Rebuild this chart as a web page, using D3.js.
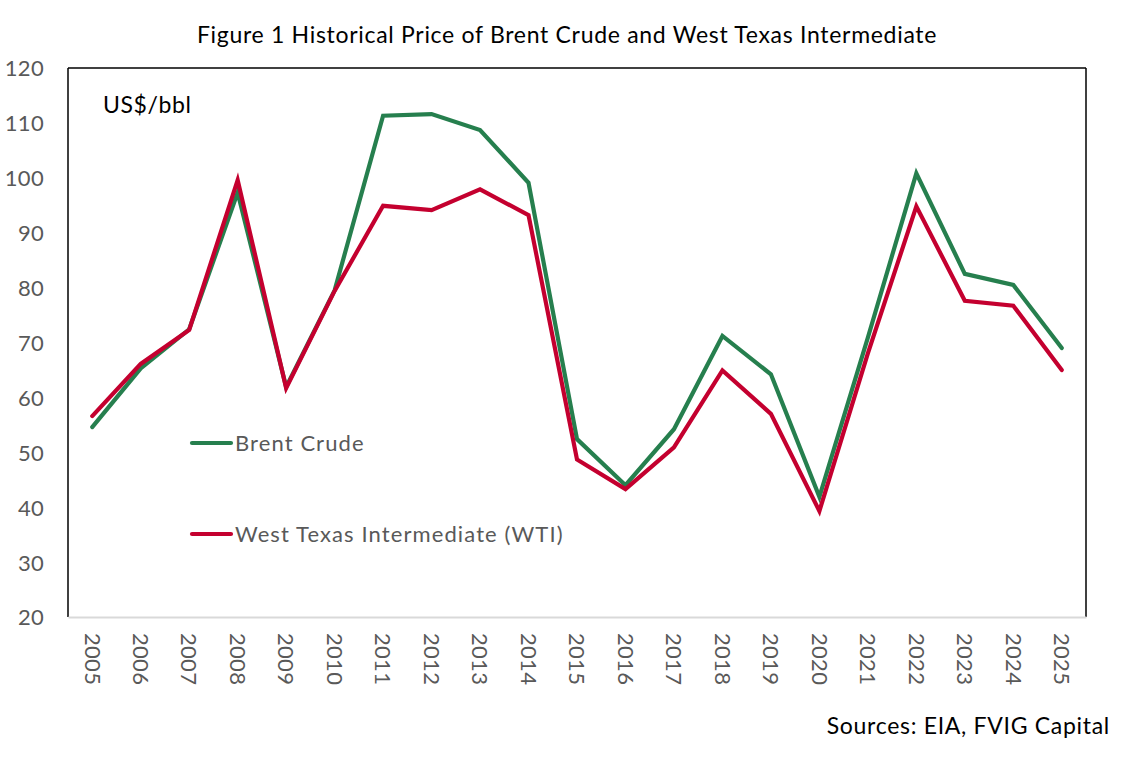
<!DOCTYPE html>
<html><head><meta charset="utf-8">
<script src="https://cdn.jsdelivr.net/npm/d3@7"></script>
<style>body{margin:0;background:#fff;} svg{display:block;}</style>
</head><body>
<svg id="chart" width="1128" height="758"></svg>
<script>
const years = ["2005","2006","2007","2008","2009","2010","2011","2012","2013","2014","2015","2016","2017","2018","2019","2020","2021","2022","2023","2024","2025"];
const brent = [54.6,65.3,72.4,97.3,61.9,79.5,111.3,111.6,108.7,99.1,52.4,44.0,54.2,71.2,64.2,41.9,70.9,100.8,82.5,80.5,69.0];
const wti   = [56.6,66.1,72.3,99.6,61.7,79.4,94.9,94.1,97.9,93.2,48.7,43.3,50.9,64.9,57.0,39.3,68.0,94.8,77.6,76.7,65.0];
const yTicks = [20,30,40,50,60,70,80,90,100,110,120];
const seriesNames = ["Brent Crude","West Texas Intermediate (WTI)"];
const colors = ["#267F4E","#C4002F"];

const svg = d3.select("#chart");
const font = "Lato, 'Noto Sans', sans-serif";
const L = 68, R = 1086, T = 68, B = 617;

const x = d3.scaleBand().domain(years).range([L, R]);
const y = d3.scaleLinear().domain([20,120]).range([B, T]);

// title
svg.append("text").attr("x", 567).attr("y", 43).attr("text-anchor","middle")
  .attr("font-family", font).attr("font-size", 23).attr("letter-spacing", 0.7).attr("fill","#000")
  .text("Figure 1 Historical Price of Brent Crude and West Texas Intermediate");

// plot border
svg.append("line").attr("x1",L).attr("x2",R).attr("y1",T).attr("y2",T).attr("stroke","#000").attr("stroke-width",1.5);
svg.append("line").attr("x1",L).attr("x2",L).attr("y1",T).attr("y2",B).attr("stroke","#000").attr("stroke-width",1.5);
svg.append("line").attr("x1",R).attr("x2",R).attr("y1",T).attr("y2",B).attr("stroke","#000").attr("stroke-width",1.5);

// y axis labels
const yAxis = d3.axisLeft(y).tickValues(yTicks).tickSize(0).tickPadding(0);
const gy = svg.append("g").attr("transform", `translate(44,0)`).call(yAxis);
gy.select(".domain").remove();
gy.selectAll("text").attr("font-family", font).attr("font-size", 22).attr("letter-spacing", 0.3).attr("fill","#595959").attr("dy","0.36em");

// x axis
const xAxis = d3.axisBottom(x).tickSize(0).tickPadding(0);
const gx = svg.append("g").attr("transform", `translate(0,${B})`).call(xAxis);
gx.select(".domain").attr("stroke","#D9D9D9").attr("stroke-width",2);
gx.selectAll("text").attr("font-family", font).attr("font-size", 22).attr("letter-spacing", 0.3).attr("fill","#595959")
  .attr("text-anchor","start").attr("dy","0.35em")
  .attr("transform","translate(0,16) rotate(90)").attr("y",0).attr("x",0);

// lines
const line = d3.line().x((d,i)=>x(years[i]) + x.bandwidth()/2).y(d=>y(d));
[brent, wti].forEach((s,k)=>{
  svg.append("path").datum(s).attr("d", line).attr("fill","none")
    .attr("stroke", colors[k]).attr("stroke-width",4.2).attr("stroke-linejoin","miter").attr("stroke-linecap","round");
});

// unit label
svg.append("text").attr("x",103).attr("y",113).attr("font-family", font).attr("font-size",23).attr("letter-spacing",0.6).attr("fill","#000").text("US$/bbl");

// legend
const legY = [443, 534];
seriesNames.forEach((n,k)=>{
  svg.append("line").attr("x1",192).attr("x2",231).attr("y1",legY[k]).attr("y2",legY[k])
    .attr("stroke",colors[k]).attr("stroke-width",4.2).attr("stroke-linecap","round");
  svg.append("text").attr("x",235).attr("y",legY[k]).attr("dy","0.35em")
    .attr("font-family", font).attr("font-size",22).attr("letter-spacing",1.1).attr("fill","#595959").text(n);
});

// source
svg.append("text").attr("x",1110).attr("y",734).attr("text-anchor","end")
  .attr("font-family", font).attr("font-size",23).attr("letter-spacing",0.7).attr("fill","#000").text("Sources: EIA, FVIG Capital");
</script>
</body></html>
